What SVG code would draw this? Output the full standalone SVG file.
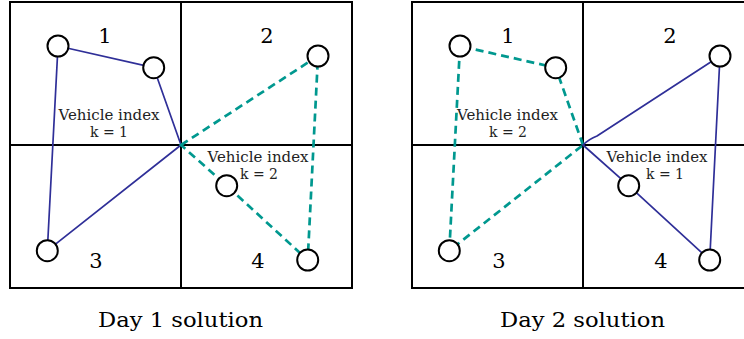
<svg xmlns="http://www.w3.org/2000/svg" width="744" height="339" viewBox="0 0 744 339">
<style>
.frame{fill:none;stroke:#000;stroke-width:2}
.node{fill:#fff;stroke:#000;stroke-width:2}
.v1{fill:none;stroke:#2f2f98;stroke-width:1.7;stroke-linejoin:round}
.v2{fill:none;stroke:#00988f;stroke-width:2.7;stroke-dasharray:8 5}
.num{font-size:21px;fill:#000;text-anchor:middle}
.lab{font-size:14px;fill:#222;text-anchor:middle}
.cap{font-size:21px;fill:#000;text-anchor:middle}
</style>
<rect width="744" height="339" fill="#fff"/>
<g id="panel-day1" font-family="DejaVu Serif, Liberation Serif, serif">
  <g id="grid1">
    <rect class="frame" x="10" y="2" width="342" height="286"/>
    <line class="frame" x1="181" y1="2" x2="181" y2="288"/>
    <line class="frame" x1="10" y1="145" x2="352" y2="145"/>
  </g>
  <g id="connectors1">
    <path class="v1" d="M181,145 L153.7,67.7 L58,46 L47.3,250.7 Z"/>
    <path class="v2" d="M181,145 L318,56 L307.7,260 L226.7,185.7 Z"/>
  </g>
  <g id="d1-n1"><circle class="node" cx="58" cy="46" r="10.5"/></g>
  <g id="d1-n2"><circle class="node" cx="153.7" cy="67.7" r="10.5"/></g>
  <g id="d1-n3"><circle class="node" cx="318" cy="56" r="10.5"/></g>
  <g id="d1-n4"><circle class="node" cx="226.7" cy="185.7" r="10.5"/></g>
  <g id="d1-n5"><circle class="node" cx="47.3" cy="250.7" r="10.5"/></g>
  <g id="d1-n6"><circle class="node" cx="307.7" cy="260" r="10.5"/></g>
  <g id="d1-labels">
    <text class="num" x="105" y="43">1</text>
    <text class="num" x="267" y="43">2</text>
    <text class="num" x="96" y="268">3</text>
    <text class="num" x="258" y="268">4</text>
    <text class="lab" x="109" y="120" textLength="101" lengthAdjust="spacingAndGlyphs">Vehicle index</text>
    <text class="lab" x="109" y="137">k = 1</text>
    <text class="lab" x="258" y="162" textLength="101" lengthAdjust="spacingAndGlyphs">Vehicle index</text>
    <text class="lab" x="259" y="179">k = 2</text>
  </g>
  <text class="cap" x="180.5" y="327" textLength="165" lengthAdjust="spacingAndGlyphs">Day 1 solution</text>
</g>
<g id="panel-day2" font-family="DejaVu Serif, Liberation Serif, serif">
  <g id="grid2">
    <line class="frame" x1="412" y1="2" x2="744" y2="2"/>
    <line class="frame" x1="412" y1="288" x2="744" y2="288"/>
    <line class="frame" x1="412" y1="1" x2="412" y2="289"/>
    <line class="frame" x1="583" y1="2" x2="583" y2="288"/>
    <line class="frame" x1="412" y1="145" x2="744" y2="145"/>
  </g>
  <g id="connectors2">
    <path class="v2" d="M583,145 L555.7,67.7 L460,46 L449.3,250.7 Z"/>
    <path class="v1" d="M583,145 Q589,139 597,136 L720,56 L709.7,260 L628.7,185.7 Z"/>
  </g>
  <g id="d2-n1"><circle class="node" cx="460" cy="46" r="10.5"/></g>
  <g id="d2-n2"><circle class="node" cx="555.7" cy="67.7" r="10.5"/></g>
  <g id="d2-n3"><circle class="node" cx="720" cy="56" r="10.5"/></g>
  <g id="d2-n4"><circle class="node" cx="628.7" cy="185.7" r="10.5"/></g>
  <g id="d2-n5"><circle class="node" cx="449.3" cy="250.7" r="10.5"/></g>
  <g id="d2-n6"><circle class="node" cx="709.7" cy="260" r="10.5"/></g>
  <g id="d2-labels">
    <text class="num" x="508" y="43">1</text>
    <text class="num" x="670" y="43">2</text>
    <text class="num" x="499" y="268">3</text>
    <text class="num" x="661" y="268">4</text>
    <text class="lab" x="507.5" y="120" textLength="101" lengthAdjust="spacingAndGlyphs">Vehicle index</text>
    <text class="lab" x="508" y="137">k = 2</text>
    <text class="lab" x="657" y="162" textLength="101" lengthAdjust="spacingAndGlyphs">Vehicle index</text>
    <text class="lab" x="665" y="179">k = 1</text>
  </g>
  <text class="cap" x="582.5" y="327" textLength="165" lengthAdjust="spacingAndGlyphs">Day 2 solution</text>
</g>
</svg>
